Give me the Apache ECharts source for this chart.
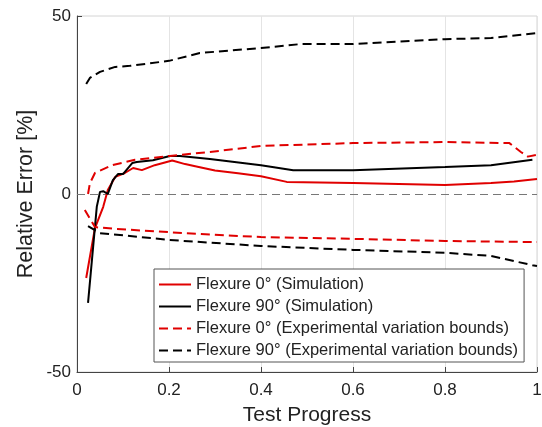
<!DOCTYPE html>
<html>
<head>
<meta charset="utf-8">
<script src="https://cdn.jsdelivr.net/npm/echarts@6/dist/echarts.min.js"></script>
<style>html,body{margin:0;padding:0;background:#fff;}#c{width:542px;height:427px;}</style>
</head>
<body>
<div id="c"></div>
<script>
// Flexure 0° simulation
var sim0X = [0.02, 0.039, 0.057, 0.067, 0.083, 0.104, 0.122, 0.141, 0.169, 0.207, 0.235, 0.257, 0.3, 0.35, 0.4, 0.456, 0.6, 0.7, 0.8, 0.9, 0.95, 1.0];
var sim0Y = [-23.6, -9.6, -3.6, 1.1, 4.8, 5.9, 7.3, 6.7, 8.1, 9.4, 8.4, 7.8, 6.6, 5.8, 5.0, 3.4, 3.1, 2.8, 2.5, 3.1, 3.5, 4.2];
// Flexure 90° simulation
var sim90X = [0.024, 0.043, 0.05, 0.057, 0.067, 0.078, 0.089, 0.1, 0.12, 0.13, 0.165, 0.202, 0.224, 0.289, 0.4, 0.47, 0.6, 0.8, 0.9, 0.99];
var sim90Y = [-30.6, -3.6, 0.6, 0.8, 0, 3.9, 5.6, 5.6, 8.7, 9.0, 9.5, 10.7, 10.7, 9.8, 8.1, 6.7, 6.7, 7.6, 8.1, 9.6];
// Flexure 0° experimental bounds (upper / lower)
var exp0UpX = [0.024, 0.028, 0.039, 0.076, 0.126, 0.202, 0.289, 0.4, 0.6, 0.8, 0.94, 0.965, 0.98, 1.0];
var exp0UpY = [0, 3, 5.9, 8.1, 9.6, 10.7, 11.8, 13.5, 14.3, 14.6, 14.3, 11.8, 10.5, 11];
var exp0LoX = [0.017, 0.039, 0.083, 0.235, 0.4, 0.6, 0.8, 1.0];
var exp0LoY = [-4.5, -9.3, -9.8, -11, -12.1, -12.6, -13.2, -13.5];
// Flexure 90° experimental bounds (upper / lower)
var exp90UpX = [0.02, 0.028, 0.05, 0.083, 0.115, 0.2, 0.267, 0.4, 0.485, 0.6, 0.8, 0.9, 1.0];
var exp90UpY = [30.9, 32.6, 34.3, 35.7, 36, 37.4, 39.6, 41, 42.1, 42.1, 43.5, 43.8, 45.2];
var exp90LoX = [0.024, 0.05, 0.115, 0.2, 0.4, 0.6, 0.8, 0.9, 0.99, 1.0];
var exp90LoY = [-9, -11, -11.8, -12.9, -14.6, -15.7, -16.5, -17.4, -20, -20.2];

var names = [
  'Flexure 0° (Simulation)',
  'Flexure 90° (Simulation)',
  'Flexure 0° (Experimental variation bounds)',
  'Flexure 90° (Experimental variation bounds)'
];

function pairs(xs, ys) { return xs.map(function (x, i) { return [x, ys[i]]; }); }

var RED = '#e00000', BLACK = '#000000';
var DASH = [9, 5];
var font = '"Liberation Sans", Arial, Helvetica, sans-serif';

function lineSeries(name, data, color, dashed, extra) {
  var s = {
    name: name, type: 'line', data: data, showSymbol: false, symbol: 'none',
    smooth: false, animation: false,
    lineStyle: { color: color, width: 2, type: dashed ? DASH : 'solid' },
    itemStyle: { color: color },
    z: 3
  };
  if (extra) for (var k in extra) s[k] = extra[k];
  return s;
}

var chart = echarts.init(document.getElementById('c'), null, { renderer: 'canvas' });
chart.setOption({
  backgroundColor: '#fff',
  animation: false,
  grid: { left: 77, right: 5, top: 16, bottom: 55, outerBoundsMode: 'none', containLabel: false,
    show: true, borderColor: '#d4d4d4', borderWidth: 1 },
  xAxis: {
    type: 'value', min: 0, max: 1, interval: 0.2,
    name: 'Test Progress', nameLocation: 'middle', nameGap: 33, nameMoveOverlap: false,
    nameTextStyle: { fontFamily: font, fontSize: 21, color: '#222' },
    axisLine: { show: true, onZero: false, lineStyle: { color: '#444', width: 1 } },
    axisTick: { show: true, inside: true, length: 5, lineStyle: { color: '#444' } },
    axisLabel: { fontFamily: font, fontSize: 17, color: '#222', margin: 10,
      formatter: function (v) { return String(Math.round(v * 10) / 10); } },
    splitLine: { show: true, lineStyle: { color: '#e4e4e4', width: 1 } }
  },
  yAxis: {
    type: 'value', min: -50, max: 50, interval: 50,
    name: 'Relative Error [%]', nameLocation: 'middle', nameGap: 40, nameMoveOverlap: false,
    nameTextStyle: { fontFamily: font, fontSize: 21.5, color: '#222' },
    axisLine: { show: true, onZero: false, lineStyle: { color: '#444', width: 1 } },
    axisTick: { show: true, inside: true, length: 5, lineStyle: { color: '#444' } },
    axisLabel: { fontFamily: font, fontSize: 17, color: '#222', margin: 6 },
    splitLine: { show: false }
  },
  legend: {
    orient: 'vertical', left: 154, top: 269,
    backgroundColor: '#fff', borderColor: '#555', borderWidth: 1,
    padding: [6, 6, 2, 4], itemWidth: 32, itemHeight: 14, itemGap: 3,
    itemStyle: { opacity: 0 },
    textStyle: { fontFamily: font, fontSize: 16.5, color: '#222', lineHeight: 19 },
    data: names
  },
  series: [
    lineSeries(names[0], pairs(sim0X, sim0Y), RED, false, {
      markLine: {
        silent: true, symbol: 'none', label: { show: false },
        lineStyle: { color: '#777', width: 1, type: [8, 5] },
        data: [{ yAxis: 0 }], z: 1
      }
    }),
    lineSeries(names[1], pairs(sim90X, sim90Y), BLACK, false),
    lineSeries(names[2], pairs(exp0UpX, exp0UpY), RED, true),
    lineSeries(names[2], pairs(exp0LoX, exp0LoY), RED, true),
    lineSeries(names[3], pairs(exp90UpX, exp90UpY), BLACK, true),
    lineSeries(names[3], pairs(exp90LoX, exp90LoY), BLACK, true)
  ]
});
</script>
</body>
</html>
